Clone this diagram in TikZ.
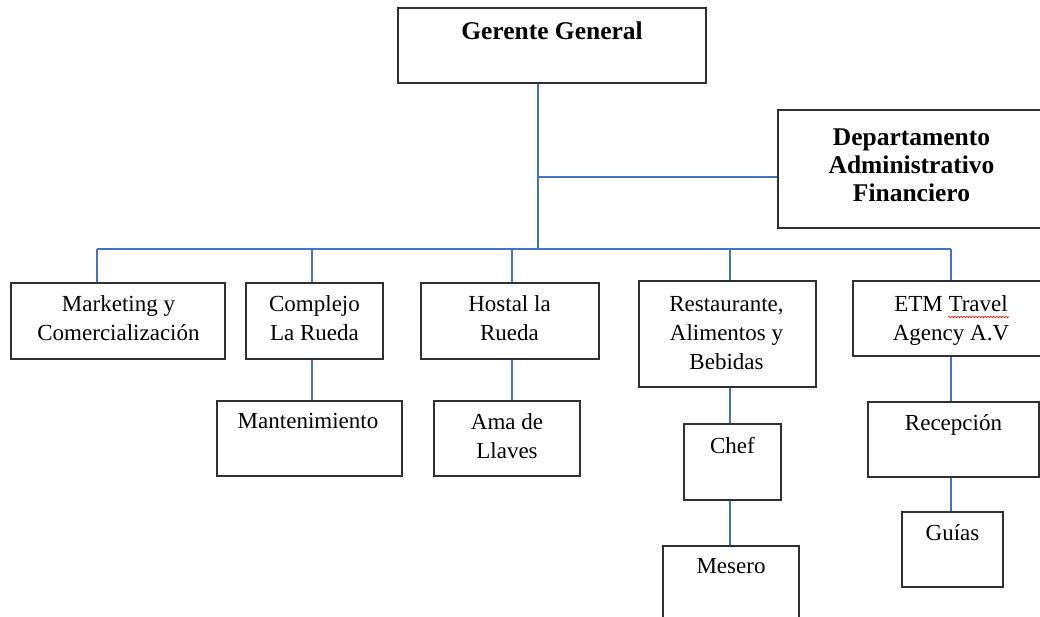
\documentclass[tikz,border=0pt]{standalone}
\usepackage{fontspec}
\setmainfont{Liberation Serif}
\usetikzlibrary{decorations.pathmorphing}
\definecolor{connblue}{HTML}{4472C4}
\definecolor{boxline}{HTML}{303030}
\begin{document}
\begin{tikzpicture}[x=1pt,y=-1pt,
  box/.style={draw=boxline,line width=1.4pt,inner sep=0pt,fill=white},
  lbl/.style={inner sep=0pt,align=center,font=\fontsize{23}{28.7}\selectfont,anchor=base},
  blbl/.style={inner sep=0pt,align=center,font=\fontsize{25.5}{28}\selectfont\bfseries,anchor=base},
  conn/.style={draw=connblue,line width=1.2pt},
  spell/.style={draw=red,line width=0.6pt,decorate,decoration={snake,amplitude=0.8pt,segment length=3pt}}]
\useasboundingbox (0,0) rectangle (1040,617);
\clip (0,0) rectangle (1040,617);
% connector coordinates
\coordinate (bus) at (538,249);
\coordinate (dj) at (538,177);
\coordinate (d1) at (97,249);
\coordinate (d2) at (312,249);
\coordinate (d3) at (512,249);
\coordinate (d4) at (730,249);
\coordinate (d5) at (951,249);
% boxes
\node[box,minimum width=308pt,minimum height=75pt] (gg) at (552,45.5) {};
\node[box,minimum width=267pt,minimum height=118pt] (dept) at (911.5,169) {};
\node[box,minimum width=214pt,minimum height=76pt] (mk) at (118,321) {};
\node[box,minimum width=137pt,minimum height=76pt] (cx) at (314.5,321) {};
\node[box,minimum width=185pt,minimum height=75pt] (mant) at (309.5,438.5) {};
\node[box,minimum width=178pt,minimum height=76pt] (hs) at (510,321) {};
\node[box,minimum width=146pt,minimum height=75pt] (ama) at (507,438.5) {};
\node[box,minimum width=177pt,minimum height=106pt] (rs) at (727.5,334) {};
\node[box,minimum width=97pt,minimum height=76pt] (chef) at (732.5,462) {};
\node[box,minimum width=136pt,minimum height=94pt] (mes) at (731,593) {};
\node[box,minimum width=196pt,minimum height=75pt] (etm) at (951,318.5) {};
\node[box,minimum width=171pt,minimum height=75pt] (rec) at (953.5,439.5) {};
\node[box,minimum width=101pt,minimum height=75pt] (gui) at (952.5,549.5) {};
% connectors
\draw[conn] (gg.south -| bus) -- (bus);
\draw[conn] (dj) -- (dj -| dept.west);
\draw[conn] (d1) -- (d5);
\draw[conn] (d1) -- (d1 |- mk.north);
\draw[conn] (d2) -- (d2 |- cx.north);
\draw[conn] (d3) -- (d3 |- hs.north);
\draw[conn] (d4) -- (d4 |- rs.north);
\draw[conn] (d5) -- (d5 |- etm.north);
\draw[conn] (cx.south -| d2) -- (mant.north -| d2);
\draw[conn] (hs.south -| d3) -- (ama.north -| d3);
\draw[conn] (rs.south -| d4) -- (chef.north -| d4);
\draw[conn] (chef.south -| d4) -- (mes.north -| d4);
\draw[conn] (etm.south -| d5) -- (rec.north -| d5);
\draw[conn] (rec.south -| d5) -- (gui.north -| d5);
% texts (anchor base = baseline of the last line)
\node[blbl] (tgg) at (552,40) {Gerente General};
\node[blbl] (tdept) at (911.5,202) {Departamento\\Administrativo\\Financiero};
\node[lbl] (tmk) at (118.5,340) {Marketing y\\Comercialización};
\node[lbl] (tcx) at (314.5,340) {Complejo\\La Rueda};
\node[lbl] (tmant) at (308,428) {Mantenimiento};
\node[lbl] (ths) at (509.5,340) {Hostal la\\Rueda};
\node[lbl] (tama) at (507,458) {Ama de\\Llaves};
\node[lbl] (trs) at (726.5,369) {Restaurante,\\Alimentos y\\Bebidas};
\node[lbl] (tchef) at (732.5,453) {Chef};
\node[lbl] (tmes) at (731,573) {Mesero};
\node[lbl] (tetm) at (951,340) {ETM Travel\\Agency A.V};
\node[lbl] (trec) at (953.5,430) {Recepción};
\node[lbl] (tgui) at (952.5,540) {Guías};
% spell-check underline
\coordinate (sq1) at (948,317);
\coordinate (sq2) at (1009,317);
\draw[spell] (sq1) -- (sq2);
\end{tikzpicture}
\end{document}
